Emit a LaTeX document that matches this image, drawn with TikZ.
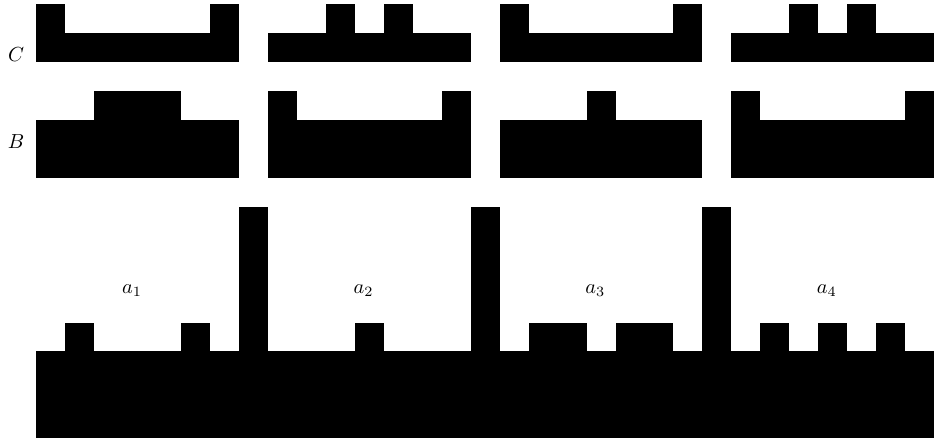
\documentclass[tikz,border=0pt]{standalone}
\usepackage{tikz}

\tikzset{
    block/.style={fill=black},
    lbl/.style={anchor=base, inner sep=0pt}
}

\begin{document}
\begin{tikzpicture}[x=0.5cm,y=0.5cm]
        % Page frame
        \useasboundingbox (-1.26,-0.12) rectangle (31,15.14);

        % Bottom profile: base, towers and bumps
        \fill[block] (0,0) rectangle (31,3);
        \foreach \t in {7,15,23}
            \fill[block] (\t,2.5) rectangle ++(1,5.5);
        \foreach \l/\w in {1/1,5/1,11/1,17/2,20/2,25/1,27/1,29/1}
            \fill[block] (\l,2.5) rectangle ++(\w,1.5);

        % Row C
        \begin{scope}[shift={(0,13)}]
            \foreach \s in {0,8,16,24}
                \fill[block] (\s,0) rectangle ++(7,1);
            \foreach \p in {0,6,10,12,16,22,26,28}
                \fill[block] (\p,0.5) rectangle ++(1,1.5);
        \end{scope}

        % Row B
        \begin{scope}[shift={(0,9)}]
            \foreach \s in {0,8,16,24}
                \fill[block] (\s,0) rectangle ++(7,2);
            \foreach \l/\w in {2/3,8/1,14/1,19/1,24/1,30/1}
                \fill[block] (\l,1.5) rectangle ++(\w,1.5);
        \end{scope}

        % Labels
        \node[lbl] (labC) at (-0.7,13) {$C$};
        \node[lbl] (labB) at (-0.7,10) {$B$};
        \foreach \i in {1,...,4}
            \node[lbl] (a\i) at ({8*\i-4.7},5) {$a_{\i}$};
    \end{tikzpicture}
\end{document}
